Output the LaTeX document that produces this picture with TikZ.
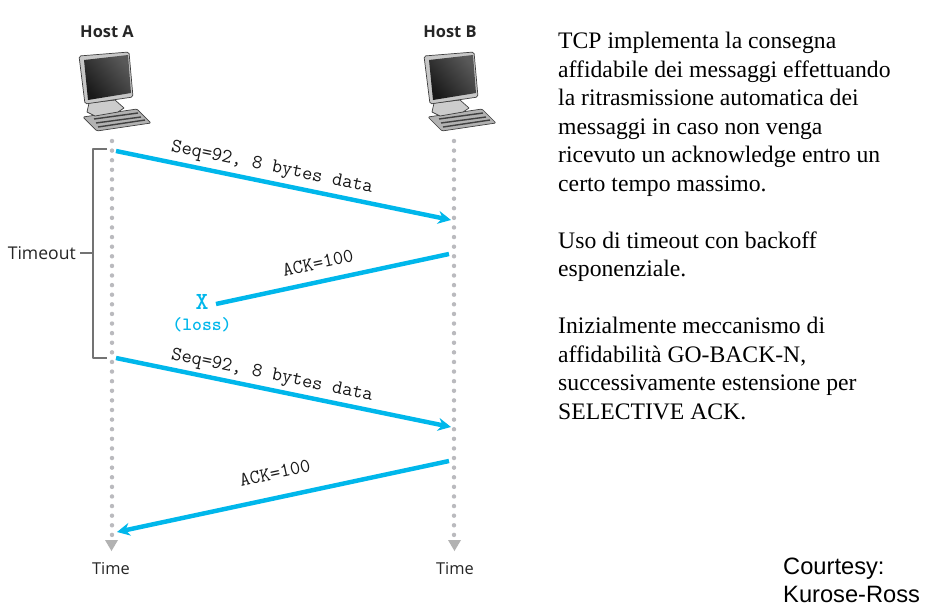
\documentclass[tikz,border=0pt]{standalone}
\usepackage{fontspec}
\usetikzlibrary{arrows.meta}
\setmainfont{Liberation Serif}
\newfontfamily\hostfont{Open Sans}
\newfontfamily\notefont{Liberation Sans}
\definecolor{msgblue}{RGB}{0,183,235}
\definecolor{lifegray}{RGB}{186,186,190}
\tikzset{
	msg/.style={draw=msgblue,line width=3.8pt},
	msgarrow/.style={msg,-{Stealth[length=11pt,width=11pt]}},
	life/.style={draw=lifegray,line width=3.8pt,line cap=round,dash pattern=on 0pt off 8.2pt},
	msglabel/.style={font=\ttfamily\fontsize{17}{17}\selectfont,inner sep=0pt,text=black!90},
	bracket/.style={draw=black!55,line width=0.9pt},
	timelabel/.style={font=\hostfont\fontsize{14}{15}\selectfont,inner sep=0pt,text=black!85},
	hostlabel/.style={font=\hostfont\bfseries\fontsize{14}{15}\selectfont,inner sep=0pt,text=black!85},
	hostpc/.pic={
		% keyboard, stand, monitor
		\draw[black!75,fill=black!30,line width=0.6pt,rounded corners=1pt] (83,117)--(137,109)--(151,123)--(97,131)--cycle;
		\draw[black!75,line width=1.2pt] (94,119)--(138,113) (96,123)--(141,117) (98,127)--(145,120);
		\draw[black!75,fill=black!20,line width=0.6pt] (89,103)--(87,112)--(95,116)--(118,112)--(124,108)--(115,100)--cycle;
		\draw[black!75,fill=black!22,line width=0.6pt,rounded corners=1.5pt] (79,56)--(129,52)--(133,97)--(85,104)--cycle;
		\shade[left color=black!90,middle color=black!30,right color=black!65,shading angle=130] (84,60)--(128,55)--(131,93)--(88,100)--cycle;
	}
}
\begin{document}
\begin{tikzpicture}[x=0.03cm,y=-0.03cm,>=stealth,line join=round]
	\useasboundingbox (0,0) rectangle (938,606);
	\fill[white] (0,0) rectangle (938,606);
	% hosts
	\node[hostlabel] (hostA) at (107,32) {Host A};
	\node[hostlabel] (hostB) at (450,32) {Host B};
	\pic at (0,0) {hostpc};
	\pic at (345,0) {hostpc};
	% time lines
	\coordinate (aTop) at (112,141);
	\coordinate (aEnd) at (112,536);
	\coordinate (bTop) at (454,141);
	\coordinate (bEnd) at (454,536);
	\draw[life] (aTop)--(aEnd);
	\draw[life] (bTop)--(bEnd);
	\fill[black!30] (105,540)--(118,540)--(111.5,551)--cycle;
	\fill[black!30] (448,540)--(461,540)--(454.5,551)--cycle;
	\node[timelabel] (timeA) at (111,569) {Time};
	\node[timelabel] (timeB) at (455,569) {Time};
	% messages
	\coordinate (s1) at (116,151);
	\coordinate (r1) at (451,220);
	\coordinate (s2) at (449,254);
	\coordinate (x2) at (216,304);
	\coordinate (s3) at (116,358);
	\coordinate (r3) at (451,427);
	\coordinate (s4) at (449,461);
	\coordinate (r4) at (117,532);
	\draw[msgarrow] (s1)--(r1);
	\draw[msg] (s2)--(x2);
	\draw[msgarrow] (s3)--(r3);
	\draw[msgarrow] (s4)--(r4);
	\node[msglabel,rotate=-11.6] (seq1) at (272,168) {Seq=92, 8 bytes data};
	\node[msglabel,rotate=12.2] (ack1) at (318,263) {ACK=100};
	\node[msglabel,rotate=-11.6] (seq2) at (272,376) {Seq=92, 8 bytes data};
	\node[msglabel,rotate=12.2] (ack2) at (275,473) {ACK=100};
	\node[font=\ttfamily\bfseries\fontsize{21}{21}\selectfont,text=msgblue,inner sep=0pt] (lossX) at (202,302) {X};
	\node[font=\ttfamily\bfseries\fontsize{16}{16}\selectfont,text=msgblue,inner sep=0pt] (loss) at (202,325) {(loss)};
	% timeout bracket
	\coordinate (brTop) at (107,149);
	\coordinate (brBot) at (107,358);
	\coordinate (brTick) at (93,253);
	\node[timelabel,anchor=east,font=\hostfont\fontsize{15}{15}\selectfont] (timeout) at (76,253) {Timeout};
	\draw[bracket] (brTop)-|(brTick)|-(brBot);
	\draw[bracket] (timeout.east)+(4,0)--(brTick);
	% text on the right
	\node[anchor=north west,inner sep=0pt,align=left,font=\fontsize{20.2}{24.35}\selectfont] (note) at (558,32) {TCP implementa la consegna\\
		affidabile dei messaggi effettuando\\
		la ritrasmissione automatica dei\\
		messaggi in caso non venga\\
		ricevuto un acknowledge entro un\\
		certo tempo massimo.\\[24.35pt]
		Uso di timeout con backoff\\
		esponenziale.\\[24.35pt]
		Inizialmente meccanismo di\\
		affidabilità GO-BACK-N,\\
		successivamente estensione per\\
		SELECTIVE ACK.};
	\node[anchor=north west,inner sep=0pt,align=left,font=\notefont\fontsize{20.2}{23.5}\selectfont] (courtesy) at (783,558) {Courtesy:\\Kurose-Ross};
\end{tikzpicture}
\end{document}
